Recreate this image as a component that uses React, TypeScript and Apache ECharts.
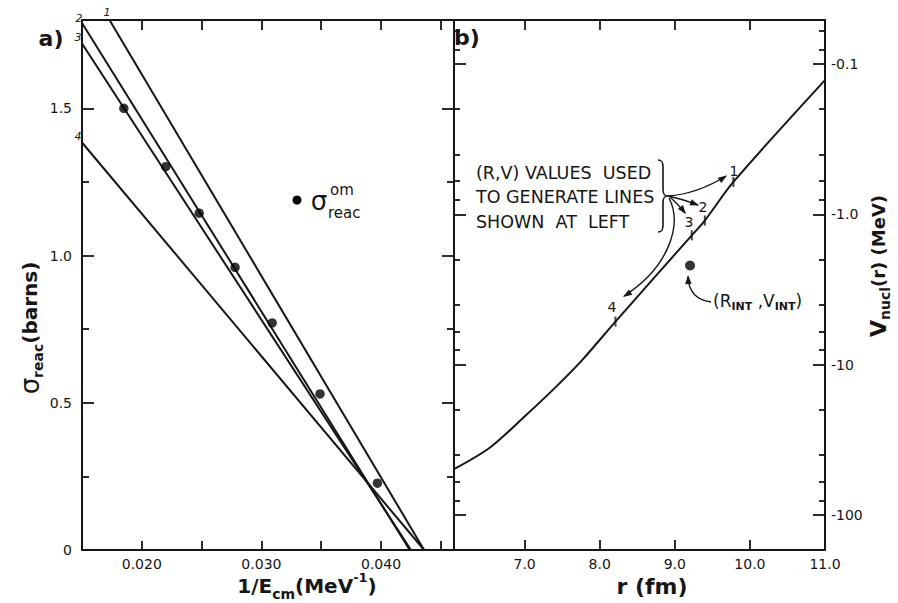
import React, { useEffect, useRef } from "react";
import * as echarts from "echarts";

// ---------------- data ----------------
// panel a) : sigma_reac vs 1/E_cm
const invEnergyTickValues = [0.02, 0.025, 0.03, 0.035, 0.04, 0.045];
const invEnergyLabelValues = [0.02, 0.03, 0.04];
const sigmaLabelValues = [0, 0.5, 1.0, 1.5];
const sigmaMinorValues = [0.25, 0.75, 1.25];

const line1Points = [[0.0173, 1.8], [0.0436, 0]];
const line2Points = [[0.015, 1.79], [0.0424, 0]];
const line3Points = [[0.015, 1.72], [0.0425, 0]];
const line4Points = [[0.015, 1.384], [0.0436, 0]];

const omInvE = [0.0185, 0.022, 0.0248, 0.0278, 0.0309, 0.0349, 0.0397];
const omSigma = [1.5, 1.302, 1.144, 0.96, 0.771, 0.53, 0.227];

// panel b) : V_nucl(r) (magnitude, MeV, plotted on a reversed log axis)
const radiusTickValues = [7, 8, 9, 10];
const radiusLabelValues = [7, 8, 9, 10, 11];
const potentialMajor = [0.1, 1, 10, 100];
const potentialMinor = [0.06, 0.08, 0.2, 0.4, 0.6, 0.8, 2, 4, 6, 8, 20, 40, 60, 80];

const curveR = [6.06, 6.54, 7.01, 7.39, 7.76, 8.21, 9.226, 9.4, 9.78, 11.0];
const curveV = [49.6, 35.6, 21.9, 14.5, 9.4, 5.17, 1.38, 1.1, 0.609, 0.128];

const rvR = [9.78, 9.4, 9.226, 8.21];
const rvV = [0.609, 1.1, 1.38, 5.17];

const rIntR = [9.203];
const rIntV = [2.19];

// ---------------- styles ----------------
const INK = "#161616";
const FONT = "DejaVu Sans";

const BRACE_D =
  "M0 0 C4 0 5 2 5 7 L5 29 C5 34 6 36 10 36 C6 36 5 38 5 43 L5 65 C5 70 4 72 0 72";
let braceRegistered = false;
function ensureBrace() {
  if (!braceRegistered) {
    echarts.graphic.registerShape("brace", echarts.graphic.extendPath(BRACE_D, {}) as any);
    braceRegistered = true;
  }
}

function zip(a: number[], b: number[]) {
  return a.map((v, i) => [v, b[i]]);
}

function arrowHead(tx: number, ty: number, dx: number, dy: number, len = 9, half = 3.2) {
  const L = Math.hypot(dx, dy);
  const ux = dx / L;
  const uy = dy / L;
  const bx = tx - ux * len;
  const by = ty - uy * len;
  return {
    type: "polygon",
    z: 100,
    shape: {
      points: [
        [tx, ty],
        [bx - uy * half, by + ux * half],
        [bx + uy * half, by - ux * half],
      ],
    },
    style: { fill: INK },
  };
}

function curve(x1: number, y1: number, cx1: number, cy1: number, x2: number, y2: number, cx2?: number, cy2?: number) {
  const shape: any = { x1, y1, x2, y2, cpx1: cx1, cpy1: cy1 };
  if (cx2 !== undefined) {
    shape.cpx2 = cx2;
    shape.cpy2 = cy2;
  }
  return {
    type: "bezierCurve",
    z: 100,
    shape,
    style: { stroke: INK, lineWidth: 1.4, fill: "none" },
  };
}

function txt(x: number, y: number, text: string, fontSize: number, extra: any = {}) {
  return {
    type: "text",
    z: 100,
    x,
    y,
    style: {
      text,
      fill: INK,
      font: `${extra.weight || "normal"} ${fontSize}px "${FONT}"`,
      fontFamily: FONT,
      fontSize,
      fontWeight: extra.weight || "normal",
      fontStyle: extra.style || "normal",
      textAlign: extra.align || "center",
      textVerticalAlign: "middle",
      ...(extra.rich ? { rich: extra.rich } : {}),
    },
    ...(extra.rotation ? { rotation: extra.rotation } : {}),
  };
}

const lineAxis = { show: true, onZero: false, lineStyle: { color: INK, width: 2 } };
const tickStyle = { color: INK, width: 1.8 };
const labelBase = { color: INK, fontFamily: FONT, fontSize: 14 };

function makeOption() {
  const xAxis: any[] = [
    {
      type: "value",
      gridIndex: 0,
      position: "bottom",
      min: 0.015,
      max: 0.0461,
      axisLine: lineAxis,
      axisTick: { show: true, inside: true, length: 9, customValues: invEnergyTickValues, lineStyle: tickStyle },
      axisLabel: {
        ...labelBase,
        show: true,
        margin: 7,
        customValues: invEnergyLabelValues,
        formatter: (v: number) => v.toFixed(3),
      },
      splitLine: { show: false },
    },
    {
      type: "value",
      gridIndex: 0,
      position: "top",
      min: 0.015,
      max: 0.0461,
      axisLine: lineAxis,
      axisTick: { show: true, inside: true, length: 10, customValues: invEnergyTickValues, lineStyle: tickStyle },
      axisLabel: { show: false },
      splitLine: { show: false },
    },
    {
      type: "value",
      gridIndex: 1,
      position: "bottom",
      min: 6.06,
      max: 11,
      axisLine: lineAxis,
      axisTick: { show: true, inside: true, length: 10, customValues: radiusTickValues, lineStyle: tickStyle },
      axisLabel: {
        ...labelBase,
        show: true,
        margin: 7,
        customValues: radiusLabelValues,
        formatter: (v: number) => v.toFixed(1),
      },
      splitLine: { show: false },
    },
    {
      type: "value",
      gridIndex: 1,
      position: "top",
      min: 6.06,
      max: 11,
      axisLine: lineAxis,
      axisTick: { show: true, inside: true, length: 10, customValues: radiusTickValues, lineStyle: tickStyle },
      axisLabel: { show: false },
      splitLine: { show: false },
    },
  ];

  const sigmaAxis = (position: string, showLine: boolean, ticks: number[], len: number, labels: boolean) => ({
    type: "value",
    gridIndex: 0,
    position,
    min: 0,
    max: 1.8,
    axisLine: showLine ? lineAxis : { show: false },
    axisTick: { show: true, inside: true, length: len, customValues: ticks, lineStyle: tickStyle },
    axisLabel: labels
      ? {
          ...labelBase,
          show: true,
          margin: 10,
          customValues: sigmaLabelValues,
          formatter: (v: number) => (v === 0 ? "0" : v.toFixed(1)),
        }
      : { show: false },
    splitLine: { show: false },
  });

  const potAxis = (position: string, showLine: boolean, ticks: number[], len: number, labels: boolean) => ({
    type: "log",
    logBase: 10,
    gridIndex: 1,
    position,
    inverse: true,
    min: 0.051,
    max: 171,
    axisLine: showLine ? lineAxis : { show: false },
    axisTick: { show: true, inside: true, length: len, customValues: ticks, lineStyle: tickStyle },
    axisLabel: labels
      ? {
          ...labelBase,
          show: true,
          margin: 6,
          customValues: potentialMajor,
          formatter: (v: number) => (v === 0.1 ? "-0.1" : v === 1 ? "-1.0" : "-" + String(Math.round(v))),
        }
      : { show: false },
    splitLine: { show: false },
  });

  const yAxis: any[] = [
    sigmaAxis("left", true, sigmaLabelValues, 12, true),
    sigmaAxis("left", false, sigmaMinorValues, 7, false),
    sigmaAxis("right", true, sigmaLabelValues, 12, false),
    sigmaAxis("right", false, sigmaMinorValues, 7, false),
    potAxis("right", true, potentialMajor, 12, true),
    potAxis("right", false, potentialMinor, 6, false),
    potAxis("left", true, potentialMajor, 12, false),
    potAxis("left", false, potentialMinor, 6, false),
  ];

  const lineSeries = (data: number[][]) => ({
    type: "line",
    xAxisIndex: 0,
    yAxisIndex: 0,
    data,
    showSymbol: false,
    symbol: "none",
    clip: true,
    lineStyle: { color: INK, width: 2 },
    silent: true,
  });

  const series: any[] = [
    lineSeries(line1Points),
    lineSeries(line2Points),
    lineSeries(line3Points),
    lineSeries(line4Points),
    {
      type: "scatter",
      xAxisIndex: 0,
      yAxisIndex: 0,
      data: zip(omInvE, omSigma),
      symbol: "circle",
      symbolSize: 9.5,
      itemStyle: { color: "#000" },
      z: 5,
    },
    {
      type: "line",
      xAxisIndex: 2,
      yAxisIndex: 4,
      data: zip(curveR, curveV),
      smooth: 0.3,
      showSymbol: false,
      symbol: "none",
      lineStyle: { color: INK, width: 2 },
    },
    {
      type: "scatter",
      xAxisIndex: 2,
      yAxisIndex: 4,
      data: zip(rvR, rvV),
      symbol: "rect",
      symbolSize: [2, 10],
      itemStyle: { color: INK },
    },
    {
      type: "scatter",
      xAxisIndex: 2,
      yAxisIndex: 4,
      data: zip(rIntR, rIntV),
      symbol: "circle",
      symbolSize: 10,
      itemStyle: { color: "#000" },
    },
  ];

  const graphic: any[] = [
    // panel tags
    txt(51, 38, "a)", 22, { weight: "bold" }),
    txt(467, 37, "b)", 22, { weight: "bold" }),
    // line numbers in panel a
    txt(107, 12, "1", 11, { style: "italic" }),
    txt(79, 18, "2", 11, { style: "italic" }),
    txt(78, 37, "3", 11, { style: "italic" }),
    txt(78, 136, "4", 11, { style: "italic" }),
    // legend in panel a
    { type: "circle", z: 100, shape: { cx: 297, cy: 200, r: 4.5 }, style: { fill: "#000" } },
    txt(319, 201, "σ", 26),
    txt(330, 190, "om", 15, { align: "left" }),
    txt(328, 213, "reac", 15, { align: "left" }),
    // axis titles
    txt(307, 586, "{n|1/E}{b|cm}{n|(MeV}{p|-1}{n|)}", 20, {
      rich: {
        n: { fontSize: 20, fontWeight: "bold", fontFamily: FONT, lineHeight: 30, fill: INK },
        b: { fontSize: 14, fontWeight: "bold", fontFamily: FONT, lineHeight: 14, verticalAlign: "bottom", fill: INK },
        p: { fontSize: 13, fontWeight: "bold", fontFamily: FONT, lineHeight: 13, verticalAlign: "top", fill: INK },
      },
    }),
    txt(30, 328, "{s|σ}{b|reac}{n|(barns)}", 20, {
      rotation: Math.PI / 2,
      rich: {
        s: { fontSize: 26, fontFamily: FONT, lineHeight: 30, fill: INK },
        b: { fontSize: 14, fontWeight: "bold", fontFamily: FONT, lineHeight: 14, verticalAlign: "bottom", fill: INK },
        n: { fontSize: 20, fontWeight: "bold", fontFamily: FONT, lineHeight: 30, fill: INK },
      },
    }),
    txt(652, 586, "r (fm)", 22, { weight: "bold" }),
    txt(878, 266, "{v|V}{b|nucl}{n|(r) (MeV)}", 18, {
      rotation: Math.PI / 2,
      rich: {
        v: { fontSize: 22, fontWeight: "bold", fontFamily: FONT, lineHeight: 28, fill: INK },
        b: { fontSize: 14, fontWeight: "bold", fontFamily: FONT, lineHeight: 14, verticalAlign: "bottom", fill: INK },
        n: { fontSize: 18, fontWeight: "bold", fontFamily: FONT, lineHeight: 28, fill: INK },
      },
    }),
    // annotation in panel b
    txt(476, 173, "(R,V) VALUES  USED", 17.5, { align: "left" }),
    txt(476, 197, "TO GENERATE LINES", 17.5, { align: "left" }),
    txt(476, 222, "SHOWN  AT  LEFT", 17.5, { align: "left" }),
    { type: "brace", z: 100, x: 658, y: 160, style: { stroke: INK, lineWidth: 1.6, fill: "none" } },
    curve(668, 196, 697, 194, 726, 176),
    arrowHead(727, 175.5, 29, -19),
    curve(668, 196, 682, 199, 698, 205),
    arrowHead(699, 205.5, 16, 6),
    curve(670, 197, 678, 204, 685, 213),
    arrowHead(686, 214, 8, 10),
    curve(669, 198, 683, 225, 624, 296, 668, 268),
    arrowHead(623, 297, -44, 28),
    txt(734, 171, "1", 14),
    txt(703, 207, "2", 14),
    txt(689, 222, "3", 14),
    txt(612, 307, "4", 14),
    // R_INT label
    curve(711, 302, 689, 299, 688, 277),
    arrowHead(688, 275, -1, -22),
    txt(713, 301, "{n|(R}{s|INT}{n| ,V}{s|INT}{n|)}", 17, {
      align: "left",
      rich: {
        n: { fontSize: 17, fontFamily: FONT, lineHeight: 22, fill: INK },
        s: { fontSize: 11, fontWeight: "bold", fontFamily: FONT, lineHeight: 11, verticalAlign: "bottom", fill: INK },
      },
    }),
  ];

  return {
    animation: false,
    backgroundColor: "#ffffff",
    textStyle: { fontFamily: FONT },
    grid: [
      { left: 82, top: 20, width: 372, height: 530, containLabel: false },
      { left: 454, top: 20, width: 371, height: 530, containLabel: false },
    ],
    xAxis,
    yAxis,
    series,
    graphic,
  };
}

export default function App() {
  const ref = useRef<HTMLDivElement>(null);
  useEffect(() => {
    if (!ref.current) return;
    ensureBrace();
    const chart = echarts.init(ref.current, null, { renderer: "svg" });
    chart.setOption(makeOption() as any);
    return () => chart.dispose();
  }, []);
  return (
    <div
      ref={ref}
      style={{ position: "absolute", left: 0, top: 0, width: 898, height: 603, background: "#fff" }}
    />
  );
}
